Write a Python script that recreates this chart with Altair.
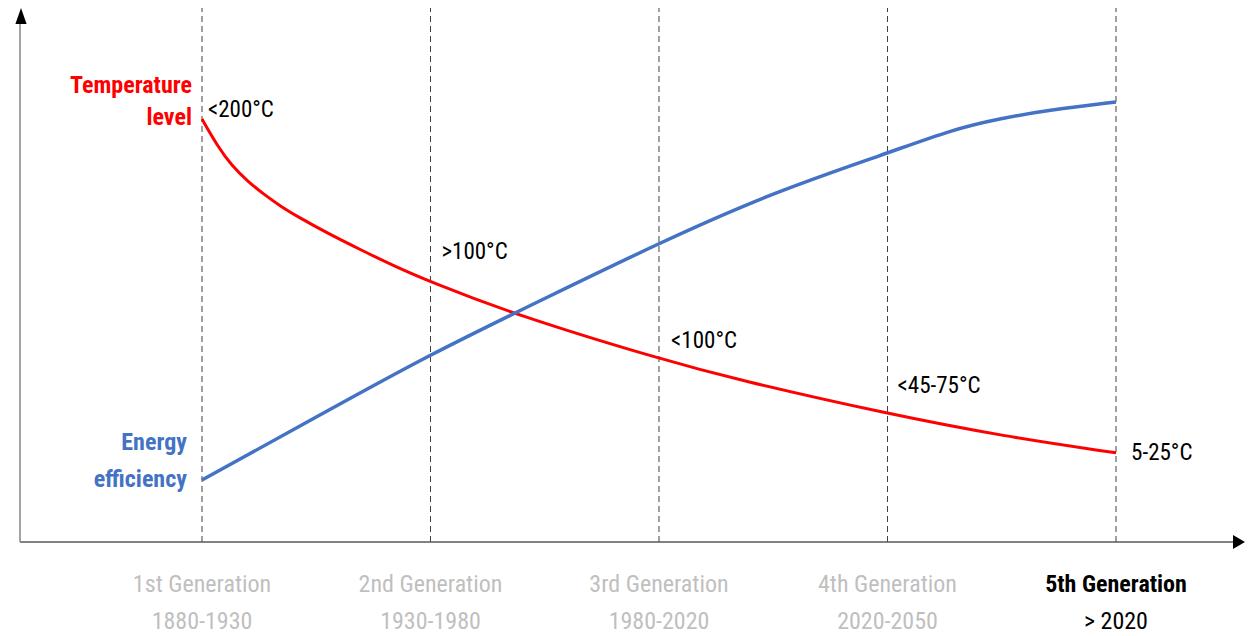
import altair as alt
import pandas as pd

# ---- data ----
generations = ["1st Generation", "2nd Generation", "3rd Generation", "4th Generation", "5th Generation"]
periods = ["1880-1930", "1930-1980", "1980-2020", "2020-2050", "> 2020"]
gen_pos = [1, 2, 3, 4, 5]
gen_current = [0, 0, 0, 0, 1]

temp_x = [1.0, 1.07, 1.128, 1.201, 1.274, 1.347, 1.42, 1.55, 1.70, 1.845, 2.0, 2.361, 3.0, 3.35, 4.0, 4.52, 5.0]
temp_y = [79.2, 74.0, 70.6, 67.5, 65.0, 62.8, 60.9, 57.8, 54.6, 51.6, 48.7, 42.7, 34.3, 30.3, 24.0, 19.7, 16.7]

eff_x = [1.0, 1.5, 2.0, 2.5, 3.0, 3.5, 4.0, 4.28, 4.49, 4.71, 5.0]
eff_y = [11.6, 23.4, 35.2, 45.6, 56.0, 65.5, 72.8, 77.2, 79.3, 80.9, 82.4]

temp_labels = ["<200°C", ">100°C", "<100°C", "<45-75°C", "5-25°C"]
temp_label_x = [1.026, 2.048, 3.053, 4.044, 5.066]
temp_label_y = [80.9, 54.3, 37.6, 29.2, 16.7]

series_text = ["Temperature", "level", "Energy", "efficiency"]
series_x = [0.956, 0.956, 0.934, 0.934]
series_y = [85.4, 79.4, 18.5, 11.6]
series_color = ["#FF0000", "#FF0000", "#4472C4", "#4472C4"]

# ---- scales ----
X0, X1 = 0.2035, 5.5646
Y0, Y1 = 0.0, 100.0
xs = alt.Scale(domain=[X0, X1], nice=False, zero=False)
ys = alt.Scale(domain=[Y0, Y1], nice=False, zero=False)
FONT = "Liberation Sans Narrow, Roboto Condensed, DejaVu Sans Condensed, Open Sans, sans-serif"

temp_df = pd.DataFrame({"x": temp_x, "y": temp_y})
eff_df = pd.DataFrame({"x": eff_x, "y": eff_y})
gen_df = pd.DataFrame({"x": gen_pos, "name": generations, "period": periods, "cur": gen_current,
                       "top": [Y1] * 5, "bottom": [Y0] * 5,
                       "ny": [-8.05] * 5, "py": [-15.0] * 5})
tl_df = pd.DataFrame({"x": temp_label_x, "y": temp_label_y, "t": temp_labels})
sl_df = pd.DataFrame({"x": series_x, "y": series_y, "t": series_text, "c": series_color})

X = lambda f: alt.X(f, scale=xs, axis=None)
Y = lambda f: alt.Y(f, scale=ys, axis=None)

# dashed generation lines
dashes = alt.Chart(gen_df).mark_rule(color="#404040", strokeDash=[6, 4], strokeWidth=1).encode(
    x=X("x:Q"), y=Y("bottom:Q"), y2="top:Q")

# axes
axis_df = pd.DataFrame({"x": [X0], "x2": [X1 - 12 / 228.5], "y": [Y0], "y2": [Y1 - 16 / 5.34]})
xaxis = alt.Chart(axis_df).mark_rule(color="#595959", strokeWidth=1.6).encode(
    x=X("x:Q"), x2="x2:Q", y=Y("y:Q"))
yaxis = alt.Chart(axis_df).mark_rule(color="#8C8C8C", strokeWidth=1.6).encode(
    x=X("x:Q"), y=Y("y:Q"), y2="y2:Q")

arr_x = pd.DataFrame({"x": [X1 - 6 / 228.5], "y": [Y0]})
arr_y = pd.DataFrame({"x": [X0 + 1 / 228.5], "y": [Y1 - 8 / 5.34]})
arrow_x = alt.Chart(arr_x).mark_point(shape="M1,0L-1,-1.15L-1,1.15Z", size=144, filled=True,
                                       color="#000000", opacity=1).encode(x=X("x:Q"), y=Y("y:Q"))
arrow_y = alt.Chart(arr_y).mark_point(shape="M0,-1L0.7,1L-0.7,1Z", size=256, filled=True,
                                       color="#000000", opacity=1).encode(x=X("x:Q"), y=Y("y:Q"))

# curves
temp_line = alt.Chart(temp_df).mark_line(color="#FF0000", strokeWidth=3, interpolate="basis").encode(
    x=X("x:Q"), y=Y("y:Q"))
eff_line = alt.Chart(eff_df).mark_line(color="#4472C4", strokeWidth=3.5, interpolate="basis").encode(
    x=X("x:Q"), y=Y("y:Q"))

# labels
temp_text = alt.Chart(tl_df).mark_text(align="left", baseline="middle", font=FONT, fontSize=23,
                                       color="#000000").encode(x=X("x:Q"), y=Y("y:Q"), text="t:N")
series_lbl = alt.Chart(sl_df).mark_text(align="right", baseline="middle", font=FONT, fontSize=24,
                                        fontWeight="bold").encode(
    x=X("x:Q"), y=Y("y:Q"), text="t:N", color=alt.Color("c:N", scale=None))

gen_name_old = alt.Chart(gen_df).transform_filter("datum.cur == 0").mark_text(
    align="center", baseline="middle", font=FONT, fontSize=24, color="#BFBFBF").encode(
    x=X("x:Q"), y=Y("ny:Q"), text="name:N")
gen_name_cur = alt.Chart(gen_df).transform_filter("datum.cur == 1").mark_text(
    align="center", baseline="middle", font=FONT, fontSize=24, fontWeight="bold", color="#000000").encode(
    x=X("x:Q"), y=Y("ny:Q"), text="name:N")
gen_period_old = alt.Chart(gen_df).transform_filter("datum.cur == 0").mark_text(
    align="center", baseline="middle", font=FONT, fontSize=24, color="#BFBFBF").encode(
    x=X("x:Q"), y=Y("py:Q"), text="period:N")
gen_period_cur = alt.Chart(gen_df).transform_filter("datum.cur == 1").mark_text(
    align="center", baseline="middle", font=FONT, fontSize=24, color="#000000").encode(
    x=X("x:Q"), y=Y("py:Q"), text="period:N")

chart = alt.layer(
    dashes, xaxis, yaxis, arrow_x, arrow_y, temp_line, eff_line,
    temp_text, series_lbl, gen_name_old, gen_name_cur, gen_period_old, gen_period_cur,
).properties(
    width=1225, height=534,
    autosize=alt.AutoSizeParams(type="none"),
    padding={"left": 12, "top": 0, "right": 3, "bottom": 94},
).configure(background="#FFFFFF").configure_view(strokeWidth=0, stroke=None)

chart.save("out.html", embed_options={"renderer": "svg", "actions": False})
